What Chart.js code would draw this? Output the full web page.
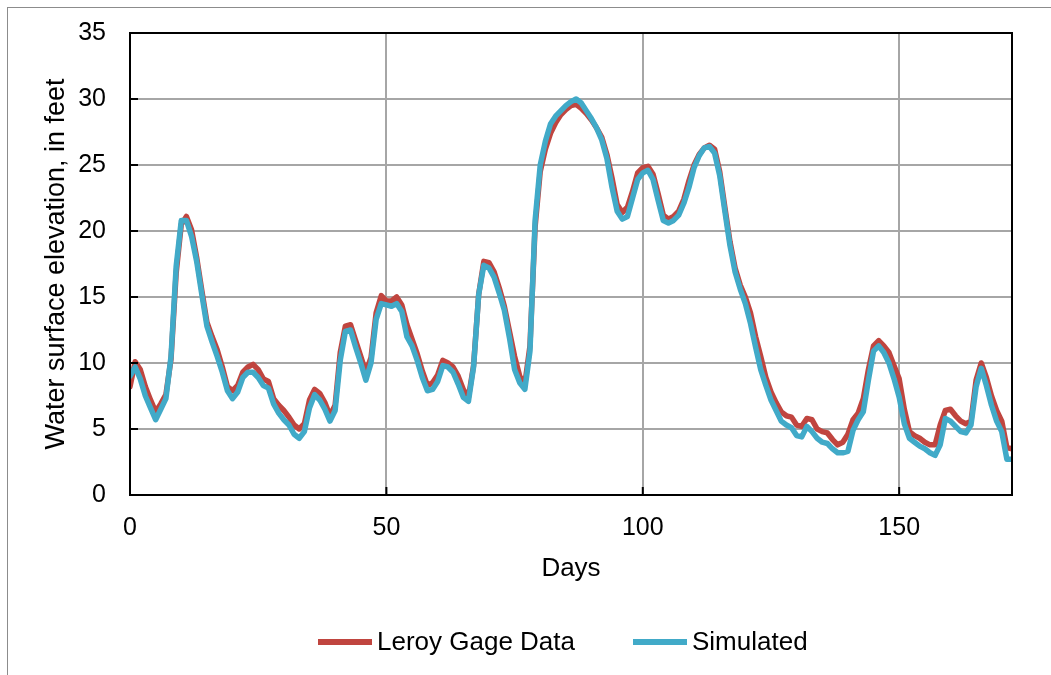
<!DOCTYPE html>
<html lang="en">
<head>
  <meta charset="UTF-8">
  <title>Water surface elevation</title>
  <style>
    body {
      margin: 0;
      padding: 0;
      background: white;
      font-family: 'Liberation Sans', Arial, sans-serif;
    }
    .frame {
      position: relative;
      width: 1051px;
      height: 675px;
      overflow: hidden;
    }
    .border {
      position: absolute;
      left: 7px;
      top: 7px;
      width: 1100px;
      height: 700px;
      border-left: 1px solid #8c8c8c;
      border-top: 1px solid #8c8c8c;
    }
    canvas {
      position: absolute;
      left: 0;
      top: 0;
    }
    .legend-item {
      position: absolute;
      top: 626px;
      display: flex;
      align-items: center;
      font-size: 26px;
      color: #000;
    }
    .legend-item span.swatch {
      display: inline-block;
      width: 54px;
      height: 6px;
      margin-right: 5px;
    }
  </style>
  <script src="https://cdn.jsdelivr.net/npm/chart.js"></script>
</head>
<body>
  <div class="frame">
    <div class="border"></div>
    <canvas id="elevationChart" width="1051" height="675"></canvas>
    <div id="legend"></div>
  </div>

  <script>
    // daily stage, feet
    const leroy = [
      8.2, 10.1, 9.5, 8.2, 7.2, 6.3, 6.9, 7.6, 10.3, 16.8,
      20.5, 21.1, 20.1, 18.0, 15.5, 13.1, 12.0, 11.0, 9.7, 8.2,
      7.9, 8.3, 9.3, 9.7, 9.9, 9.5, 8.8, 8.6, 7.3, 6.8,
      6.4, 5.9, 5.3, 5.0, 5.4, 7.2, 8.0, 7.7, 7.0, 6.0,
      6.8, 10.8, 12.8, 12.9, 11.7, 10.5, 9.3, 10.4, 13.8, 15.1,
      14.7, 14.7, 15.0, 14.4, 12.9, 11.8, 10.7, 9.4, 8.3, 8.5,
      9.1, 10.2, 10.0, 9.7, 9.0, 8.0, 7.4, 9.8, 15.2, 17.7,
      17.6, 16.9, 15.7, 14.3, 12.4, 10.5, 9.0, 8.4, 11.3, 20.3,
      24.5, 26.2, 27.4, 28.2, 28.8, 29.2, 29.5, 29.6, 29.3, 28.9,
      28.4, 27.8, 27.1, 25.8, 24.0, 22.0, 21.4, 21.8, 23.0, 24.4,
      24.8, 24.9, 24.3, 22.8, 21.2, 20.9, 21.1, 21.5, 22.4, 23.8,
      25.0, 25.8, 26.3, 26.5, 26.2, 24.5, 21.8, 19.2, 17.2, 15.9,
      15.0, 13.8, 12.0, 10.5, 8.9, 7.8, 7.0, 6.3, 6.0, 5.9,
      5.3, 5.2, 5.8, 5.7, 5.0, 4.8, 4.7, 4.2, 3.8, 4.0,
      4.6, 5.7, 6.2, 7.3, 9.5, 11.3, 11.7, 11.3, 10.8, 9.8,
      8.8, 6.5, 4.8, 4.5, 4.3, 4.0, 3.8, 3.8, 5.3, 6.4,
      6.5, 6.0, 5.6, 5.4, 5.6, 8.7, 10.0, 8.9, 7.5, 6.4,
      5.6, 3.6, 3.5
    ];
    const simulated = [
      9.0, 9.7, 8.8, 7.5, 6.6, 5.7, 6.5, 7.3, 10.5, 17.3,
      20.8, 20.8, 19.6, 17.7, 15.2, 12.8, 11.6, 10.5, 9.3, 7.9,
      7.3, 7.8, 8.9, 9.3, 9.3, 8.9, 8.3, 8.1, 6.9, 6.2,
      5.7, 5.3, 4.6, 4.3, 4.8, 6.6, 7.6, 7.2, 6.5, 5.6,
      6.4, 10.2, 12.4, 12.5, 11.2, 10.0, 8.7, 10.0, 13.3, 14.5,
      14.4, 14.3, 14.5, 13.9, 12.0, 11.3, 10.2, 8.9, 7.9, 8.0,
      8.6, 9.8, 9.7, 9.3, 8.4, 7.4, 7.1, 9.7, 15.2, 17.4,
      17.2, 16.5, 15.3, 14.0, 11.9, 9.5, 8.5, 8.0, 10.9, 20.8,
      25.0, 26.8, 28.1, 28.7, 29.1, 29.5, 29.8, 30.0, 29.7, 29.1,
      28.5, 27.8, 26.9, 25.5, 23.3, 21.5, 20.9, 21.1, 22.5, 23.9,
      24.4, 24.6, 23.9, 22.3, 20.8, 20.6, 20.8, 21.2, 22.1, 23.3,
      24.8, 25.7, 26.3, 26.4, 25.9, 24.2, 21.5, 18.9, 16.9, 15.6,
      14.5, 13.0, 11.2, 9.5, 8.3, 7.2, 6.4, 5.6, 5.3, 5.1,
      4.5, 4.4, 5.2, 4.8, 4.3, 4.0, 3.9, 3.5, 3.2, 3.2,
      3.3, 4.9, 5.7, 6.3, 8.7, 10.9, 11.3, 10.8, 10.0, 8.8,
      7.4, 5.4, 4.3, 4.0, 3.7, 3.5, 3.2, 3.0, 3.8, 5.8,
      5.6, 5.2, 4.8, 4.7, 5.3, 8.2, 9.6, 8.3, 6.8, 5.6,
      4.8, 2.7, 2.7
    ];
    const days = leroy.map((v, i) => i);
    const seriesNames = ['Leroy Gage Data', 'Simulated'];
    const seriesColors = ['#C0453F', '#41AAC8'];
    const xTicks = [0, 50, 100, 150];
    const yTicks = [0, 5, 10, 15, 20, 25, 30, 35];

    // black frame round the plot area + inward tick marks
    const frameTicks = {
      id: 'frameTicks',
      afterDraw(chart) {
        const { ctx, chartArea: a, scales: { x, y } } = chart;
        ctx.save();
        ctx.strokeStyle = '#000';
        ctx.lineWidth = 2;
        ctx.strokeRect(a.left, a.top, a.right - a.left, a.bottom - a.top);
        ctx.beginPath();
        yTicks.forEach(t => {
          const py = y.getPixelForValue(t);
          ctx.moveTo(a.left, py);
          ctx.lineTo(a.left + 8, py);
        });
        xTicks.forEach(t => {
          const px = x.getPixelForValue(t);
          ctx.moveTo(px, a.bottom);
          ctx.lineTo(px, a.bottom - 8);
        });
        ctx.stroke();
        ctx.restore();
      }
    };

    const ctx = document.getElementById('elevationChart').getContext('2d');
    const chart = new Chart(ctx, {
      type: 'line',
      data: {
        datasets: [
          {
            label: seriesNames[0],
            data: days.map((d, i) => ({ x: d, y: leroy[i] })),
            borderColor: seriesColors[0],
            backgroundColor: seriesColors[0],
            borderWidth: 5.5,
            order: 2
          },
          {
            label: seriesNames[1],
            data: days.map((d, i) => ({ x: d, y: simulated[i] })),
            borderColor: seriesColors[1],
            backgroundColor: seriesColors[1],
            borderWidth: 5.5,
            order: 1
          }
        ]
      },
      options: {
        responsive: false,
        animation: false,
        events: [],
        layout: {
          padding: { top: 33, right: 39, bottom: 0, left: 0 }
        },
        elements: {
          point: { radius: 0 },
          line: { tension: 0, borderJoinStyle: 'round', borderCapStyle: 'round' }
        },
        scales: {
          x: {
            type: 'linear',
            min: 0,
            max: 172,
            afterFit(scale) {
              scale.height = 180;
              scale.paddingLeft = 0;
              scale.paddingRight = 0;
            },
            afterBuildTicks(scale) { scale.ticks = xTicks.map(v => ({ value: v })); },
            grid: { color: '#a6a6a6', lineWidth: 2, drawTicks: false },
            border: { display: false },
            ticks: {
              padding: 18,
              color: '#000',
              font: { family: 'Liberation Sans', size: 25 }
            },
            title: {
              display: true,
              text: 'Days',
              color: '#000',
              font: { family: 'Liberation Sans', size: 26 },
              padding: { top: 0, bottom: 91 }
            }
          },
          y: {
            min: 0,
            max: 35,
            afterFit(scale) {
              scale.width = 130;
              scale.paddingTop = 0;
              scale.paddingBottom = 0;
            },
            afterBuildTicks(scale) { scale.ticks = yTicks.map(v => ({ value: v })); },
            grid: { color: '#a6a6a6', lineWidth: 2, drawTicks: false },
            border: { display: false },
            ticks: {
              padding: 24,
              color: '#000',
              font: { family: 'Liberation Sans', size: 25 }
            },
            title: {
              display: true,
              text: 'Water surface elevation, in feet',
              color: '#000',
              font: { family: 'Liberation Sans', size: 27 },
              padding: { top: 40, bottom: 0 }
            }
          }
        },
        plugins: {
          legend: { display: false },
          tooltip: { enabled: false }
        }
      },
      plugins: [frameTicks]
    });

    // legend under the chart
    const legendLefts = [318, 633];
    const legendEl = document.getElementById('legend');
    seriesNames.forEach((name, i) => {
      const item = document.createElement('div');
      item.className = 'legend-item';
      item.style.left = legendLefts[i] + 'px';
      item.innerHTML = '<span class="swatch" style="background:' + seriesColors[i] + '"></span>' + name;
      legendEl.appendChild(item);
    });
  </script>
</body>
</html>
